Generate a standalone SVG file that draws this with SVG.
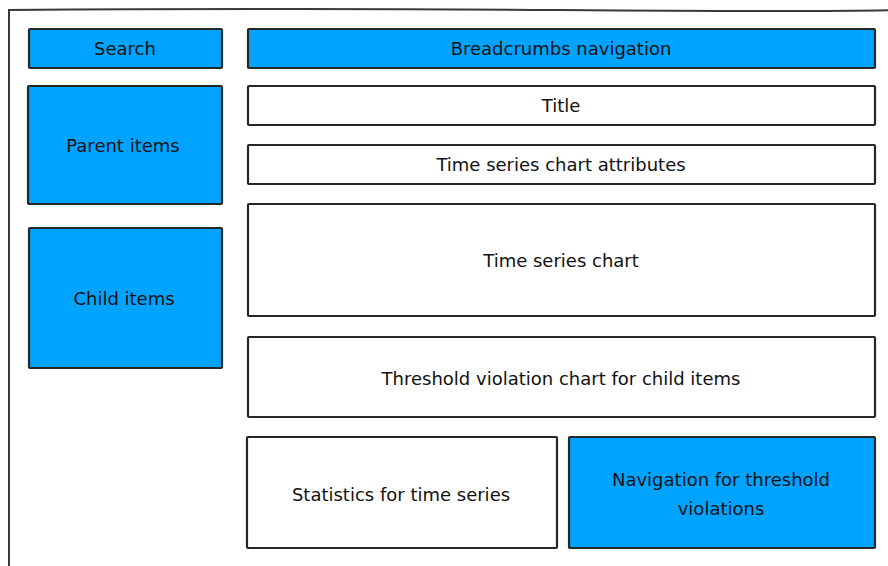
<svg xmlns="http://www.w3.org/2000/svg" width="888" height="566" viewBox="0 0 888 566">
<style>
.box{stroke:#262626;stroke-width:2.2;stroke-linejoin:round}
.blue{fill:#00a3ff}
.white{fill:#ffffff}
.frame{fill:none;stroke:#3a3a3a;stroke-width:2}
text{font-family:"Comic Sans MS","DejaVu Sans",sans-serif;font-size:18px;fill:#111;text-anchor:middle;dominant-baseline:central}
</style>
<rect width="888" height="566" fill="#ffffff"/>
<path class="frame" d="M9 570 L9 10 Q300 8 560 10 T900 10"/>
<g id="search"><rect class="box blue" x="29" y="29" width="193" height="39" rx="1"/><text x="125" y="48">Search</text></g>
<g id="parent-items"><rect class="box blue" x="28" y="86" width="194" height="118" rx="1"/><text x="123" y="145">Parent items</text></g>
<g id="child-items"><rect class="box blue" x="29" y="228" width="193" height="140" rx="1"/><text x="124" y="298">Child items</text></g>
<g id="breadcrumbs"><rect class="box blue" x="248" y="29" width="627" height="39" rx="1"/><text x="561" y="48">Breadcrumbs navigation</text></g>
<g id="title"><rect class="box white" x="248" y="86" width="627" height="39" rx="1"/><text x="561" y="105">Title</text></g>
<g id="chart-attributes"><rect class="box white" x="248" y="145" width="627" height="39" rx="1"/><text x="561" y="164">Time series chart attributes</text></g>
<g id="time-series-chart"><rect class="box white" x="248" y="204" width="627" height="112" rx="1"/><text x="561" y="260">Time series chart</text></g>
<g id="threshold-chart"><rect class="box white" x="248" y="337" width="627" height="80" rx="1"/><text x="561" y="378">Threshold violation chart for child items</text></g>
<g id="statistics"><rect class="box white" x="247" y="437" width="310" height="111" rx="1"/><text x="401" y="494">Statistics for time series</text></g>
<g id="threshold-navigation"><rect class="box blue" x="569" y="437" width="306" height="111" rx="1"/><text x="721" y="479">Navigation for threshold</text><text x="721" y="508">violations</text></g>
<g id="connectors"/>
</svg>
